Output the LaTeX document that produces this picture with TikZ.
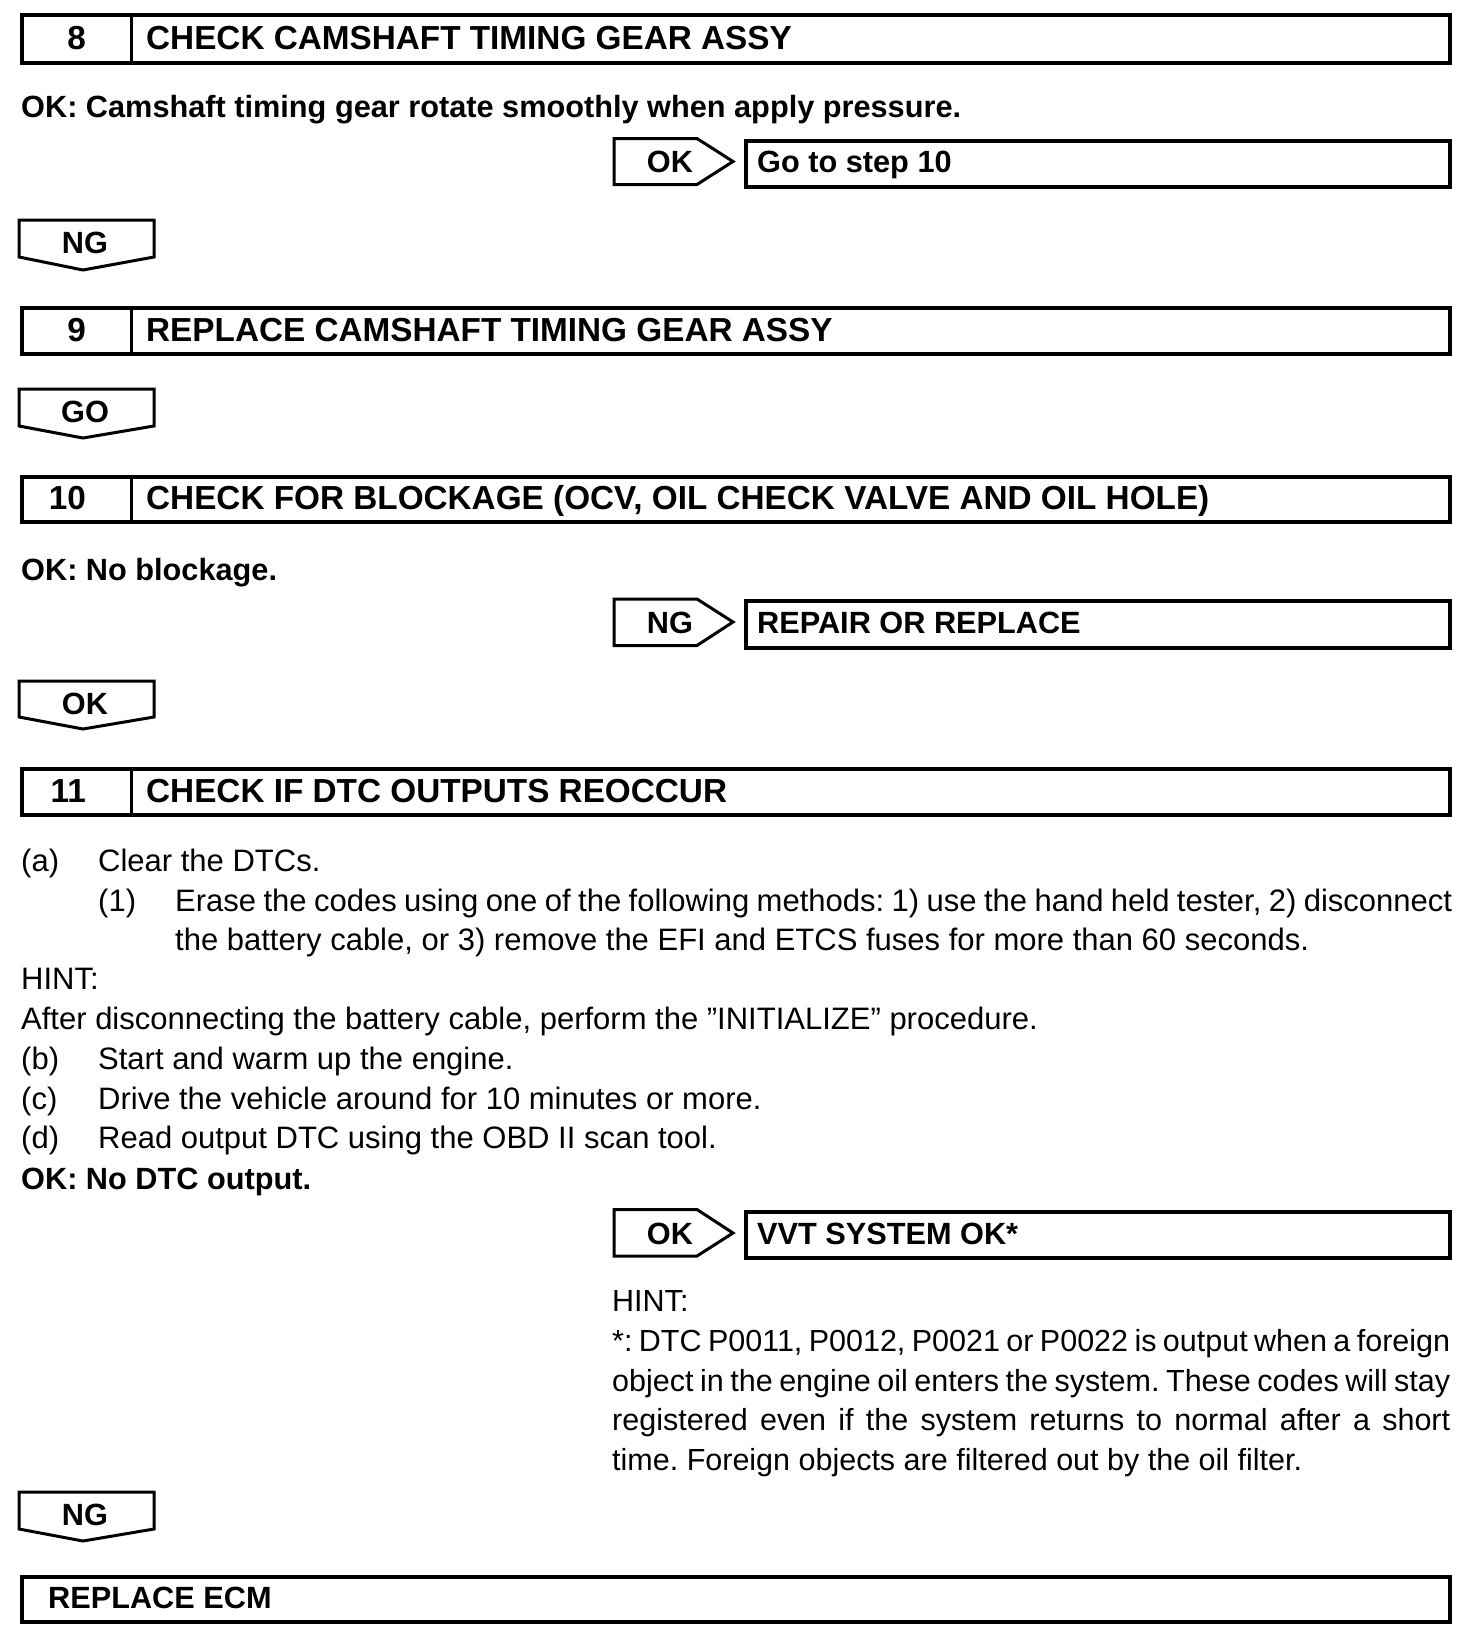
\documentclass[tikz,border=0pt]{standalone}
\usepackage{fontspec}
\setmainfont{Liberation Sans}
\begin{document}
\frenchspacing
\begin{tikzpicture}[x=1pt,y=-1pt,
  hbox/.style={draw,line width=4pt,inner sep=0pt,anchor=north west},
  tagline/.style={draw,line width=3pt,line join=miter},
  htext/.style={inner sep=0pt,anchor=base west,font=\fontsize{33.3}{40}\selectfont\bfseries},
  hnum/.style={inner sep=0pt,anchor=base east,font=\fontsize{33.3}{40}\selectfont\bfseries},
  btext/.style={inner sep=0pt,anchor=base west,font=\fontsize{30.7}{40}\selectfont\bfseries},
  ctext/.style={inner sep=0pt,anchor=base,font=\fontsize{30.7}{40}\selectfont\bfseries},
  rtext/.style={inner sep=0pt,anchor=base west,font=\fontsize{31}{40}\selectfont},
  stext/.style={inner sep=0pt,anchor=base west,font=\fontsize{30.5}{40}\selectfont}]
\useasboundingbox (0,0) rectangle (1472,1638);
\fill[white] (0,0) rectangle (1472,1638);

% ---------- step 8
\node[hbox,minimum width=1428pt,minimum height=48pt] (box8) at (20,13) {};
\draw[line width=3pt] (131,13) -- (131,61);
\node[hnum] (n8) at (86,49) {8};
\node[htext] (t8) at (146,49) {CHECK CAMSHAFT TIMING GEAR ASSY};
\node[btext] (ok8) at (21,117) {OK: Camshaft timing gear rotate smoothly when apply pressure.};

\draw[tagline] (614,138.5) -- (697,138.5) -- (733,161.5) -- (697,184.5) -- (614,184.5) -- cycle;
\node[ctext] (p1) at (670,172) {OK};
\node[hbox,minimum width=704pt,minimum height=46pt] (go10) at (744,138.5) {};
\node[btext] (go10t) at (757,172) {Go to step 10};

\draw[tagline] (19,220) -- (154,220) -- (154,257) -- (83,270) -- (19,257) -- cycle;
\node[ctext] (tag1) at (85,253) {NG};

% ---------- step 9
\node[hbox,minimum width=1428pt,minimum height=46pt] (box9) at (20,306) {};
\draw[line width=3pt] (131,306) -- (131,352);
\node[hnum] (n9) at (86,341) {9};
\node[htext] (t9) at (146,341) {REPLACE CAMSHAFT TIMING GEAR ASSY};

\draw[tagline] (19,389) -- (154,389) -- (154,426) -- (83,438) -- (19,426) -- cycle;
\node[ctext] (tag2) at (85,422) {GO};

% ---------- step 10
\node[hbox,minimum width=1428pt,minimum height=45pt] (box10) at (20,475) {};
\draw[line width=3pt] (131,475) -- (131,520);
\node[hnum] (n10) at (86,509) {10};
\node[htext] (t10) at (146,509) {CHECK FOR BLOCKAGE (OCV, OIL CHECK VALVE AND OIL HOLE)};
\node[btext] (ok10) at (21,580) {OK: No blockage.};

\draw[tagline] (614,599) -- (697,599) -- (733,622) -- (697,645.5) -- (614,645.5) -- cycle;
\node[ctext] (p2) at (670,633) {NG};
\node[hbox,minimum width=704pt,minimum height=46.5pt] (rep) at (744,599) {};
\node[btext] (rept) at (757,633) {REPAIR OR REPLACE};

\draw[tagline] (19,681) -- (154,681) -- (154,717) -- (83,729) -- (19,717) -- cycle;
\node[ctext] (tag3) at (85,714) {OK};

% ---------- step 11
\node[hbox,minimum width=1428pt,minimum height=46pt] (box11) at (20,767) {};
\draw[line width=3pt] (131,767) -- (131,813);
\node[hnum] (n11) at (86,802) {11};
\node[htext] (t11) at (146,802) {CHECK IF DTC OUTPUTS REOCCUR};

\node[rtext] (la) at (21,871) {(a)};
\node[rtext] (la2) at (98,871) {Clear the DTCs.};
\node[rtext] (l1) at (98,911) {(1)};
\node[rtext] (l12) at (175,911) {\makebox[1277pt][s]{Erase the codes using one of the following methods: 1) use the hand held tester, 2) disconnect}};
\node[rtext] (l13) at (175,950) {the battery cable, or 3) remove the EFI and ETCS fuses for more than 60 seconds.};
\node[rtext] (lh) at (21,989) {HINT:};
\node[rtext] (lafter) at (21,1029) {After disconnecting the battery cable, perform the ”INITIALIZE” procedure.};
\node[rtext] (lb) at (21,1069) {(b)};
\node[rtext] (lb2) at (98,1069) {Start and warm up the engine.};
\node[rtext] (lc) at (21,1109) {(c)};
\node[rtext] (lc2) at (98,1109) {Drive the vehicle around for 10 minutes or more.};
\node[rtext] (ld) at (21,1148) {(d)};
\node[rtext] (ld2) at (98,1148) {Read output DTC using the OBD II scan tool.};
\node[btext] (ok11) at (21,1189) {OK: No DTC output.};

\draw[tagline] (614,1209.5) -- (697,1209.5) -- (733,1233) -- (697,1256) -- (614,1256) -- cycle;
\node[ctext] (p3) at (670,1244) {OK};
\node[hbox,minimum width=704pt,minimum height=46.5pt] (vvt) at (744,1209.5) {};
\node[btext] (vvtt) at (757,1244) {VVT SYSTEM OK*};

\node[stext] (h2) at (612,1311) {HINT:};
\node[stext] (h2a) at (612,1351) {\makebox[838pt][s]{*: DTC P0011, P0012, P0021 or P0022 is output when a foreign}};
\node[stext] (h2b) at (612,1391) {\makebox[838pt][s]{object in the engine oil enters the system. These codes will stay}};
\node[stext] (h2c) at (612,1430) {\makebox[838pt][s]{registered even if the system returns to normal after a short}};
\node[stext] (h2d) at (612,1470) {time. Foreign objects are filtered out by the oil filter.};

\draw[tagline] (19,1492) -- (154,1492) -- (154,1529) -- (83,1541) -- (19,1529) -- cycle;
\node[ctext] (tag4) at (85,1525) {NG};

% ---------- replace ECM
\node[hbox,minimum width=1428pt,minimum height=45pt] (ecm) at (20,1575) {};
\node[btext] (ecmt) at (48,1608) {REPLACE ECM};
\end{tikzpicture}
\end{document}
